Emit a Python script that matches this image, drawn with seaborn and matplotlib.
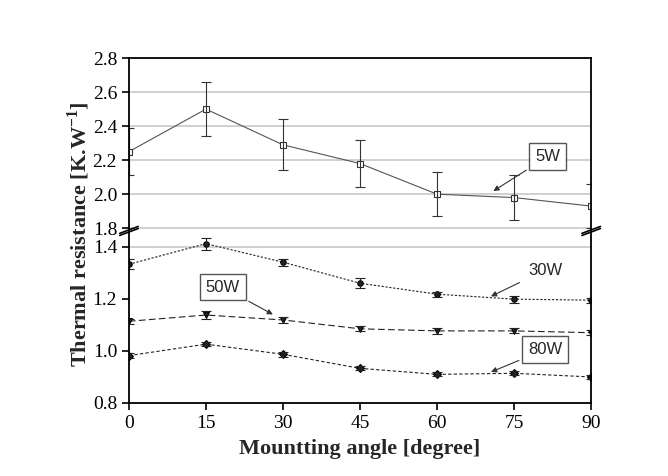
import seaborn as sns
import matplotlib.pyplot as plt
import numpy as np
import pandas as pd

angles = [0, 15, 30, 45, 60, 75, 90]
r_5w = [2.25, 2.50, 2.29, 2.18, 2.00, 1.98, 1.93]
e_5w = [0.14, 0.16, 0.15, 0.14, 0.13, 0.13, 0.13]
r_30w = [1.333, 1.412, 1.341, 1.260, 1.218, 1.199, 1.195]
e_30w = [0.02, 0.023, 0.013, 0.02, 0.01, 0.013, 0.01]
r_50w = [1.114, 1.138, 1.119, 1.085, 1.077, 1.077, 1.070]
e_50w = [0.01, 0.015, 0.01, 0.01, 0.012, 0.01, 0.01]
r_80w = [0.982, 1.026, 0.987, 0.933, 0.910, 0.914, 0.900]
e_80w = [0.01, 0.008, 0.01, 0.008, 0.008, 0.008, 0.008]

sns.set_style("white")
plt.rcParams['font.family'] = ['Liberation Serif', 'DejaVu Serif']
plt.rcParams['mathtext.fontset'] = 'custom'
plt.rcParams['mathtext.rm'] = 'Liberation Serif'
plt.rcParams['mathtext.bf'] = 'Liberation Serif:bold'

fig = plt.figure(figsize=(6.68, 4.76), dpi=100)
ax_top = fig.add_axes([0.193, 0.517, 0.692, 0.361])
ax_bot = fig.add_axes([0.193, 0.1534, 0.692, 0.3636])

df_top = pd.DataFrame({'angle': angles, 'R': r_5w})
df_bot = pd.DataFrame({'angle': angles * 3,
                       'R': r_30w + r_50w + r_80w,
                       'P': ['30W'] * 7 + ['50W'] * 7 + ['80W'] * 7})

# gridlines
for v in [1.8, 2.0, 2.2, 2.4, 2.6]:
    ax_top.axhline(v, color='#c8c8c8', lw=1.2, zorder=0)
ax_bot.axhline(1.4, color='#c8c8c8', lw=1.2, zorder=0)

sns.lineplot(data=df_top, x='angle', y='R', ax=ax_top, color='#555555', lw=0.8,
             marker='s', markersize=4, markerfacecolor='white',
             markeredgecolor='#333333', markeredgewidth=0.8)
ax_top.errorbar(angles, r_5w, yerr=e_5w, fmt='none', ecolor='#333333',
                elinewidth=0.8, capsize=3.5, capthick=0.8)

styles = {'30W': ((0, (2, 1.5)), 'o'), '50W': ((0, (6, 3)), 'v'), '80W': ((0, (3, 2)), 'D')}
for (name, grp), err in zip(df_bot.groupby('P'), [e_30w, e_50w, e_80w]):
    ls, mk = styles[name]
    sns.lineplot(data=grp, x='angle', y='R', ax=ax_bot, color='#222222', lw=0.8,
                 linestyle=ls, marker=mk, markersize=4, markeredgecolor='black')
    ax_bot.errorbar(grp['angle'], grp['R'], yerr=err, fmt='none', ecolor='#222222',
                    elinewidth=0.8, capsize=3.5, capthick=0.8)

ax_top.set_xlim(0, 90)
ax_bot.set_xlim(0, 90)
ax_top.set_ylim(1.79, 2.8)
ax_bot.set_ylim(0.8, 1.465)
ax_top.set_yticks([1.8, 2.0, 2.2, 2.4, 2.6, 2.8])
ax_bot.set_yticks([0.8, 1.0, 1.2, 1.4])
ax_bot.set_xticks(angles)
ax_top.set_xticks([])
ax_top.set_xlabel('')
ax_top.set_ylabel('')
ax_bot.set_ylabel('')

for ax in (ax_top, ax_bot):
    for s in ax.spines.values():
        s.set_color('black')
        s.set_linewidth(1.3)
    ax.tick_params(axis='both', which='major', direction='out', length=5, width=1.2,
                   labelsize=14, colors='black', left=True, bottom=True)
ax_top.spines['bottom'].set_visible(False)
ax_bot.spines['top'].set_visible(False)
ax_top.tick_params(axis='x', bottom=False, labelbottom=False)

ax_bot.set_xlabel('Mountting angle [degree]', fontsize=16, fontweight='bold', labelpad=5)
fig.text(0.118, 0.509, 'Thermal resistance [K.W$^{\\mathbf{-1}}$]', rotation=90, fontsize=16,
         fontweight='bold', ha='center', va='center')

# break marks
for xf in (0.0, 1.0):
    for dy in (-0.012, 0.0):
        ax_bot.plot([xf - 0.02, xf + 0.02], [1.0 + dy - 0.02, 1.0 + dy + 0.02],
                    transform=ax_bot.transAxes, color='black', lw=1.2, clip_on=False)

# annotations
box = dict(boxstyle='square,pad=0.35', fc='white', ec='#555555', lw=1)
arrow = dict(arrowstyle='-|>', color='#333333', lw=0.8, mutation_scale=8)
ann_font = dict(fontsize=12, family='Liberation Sans')
ax_top.annotate('5W', xy=(70.5, 2.01), xytext=(81.5, 2.22), ha='center', va='center',
                bbox=box, arrowprops=arrow, **ann_font)
ax_bot.annotate('30W', xy=(70, 1.205), xytext=(81, 1.31), ha='center', va='center',
                bbox=dict(boxstyle='square,pad=0.35', fc='white', ec='none'),
                arrowprops=arrow, **ann_font)
ax_bot.annotate('50W', xy=(28.5, 1.135), xytext=(18.3, 1.245), ha='center', va='center',
                bbox=box, arrowprops=arrow, **ann_font)
ax_bot.annotate('80W', xy=(70, 0.915), xytext=(81, 1.005), ha='center', va='center',
                bbox=box, arrowprops=arrow, **ann_font)

fig.savefig('out.png', dpi=100)
